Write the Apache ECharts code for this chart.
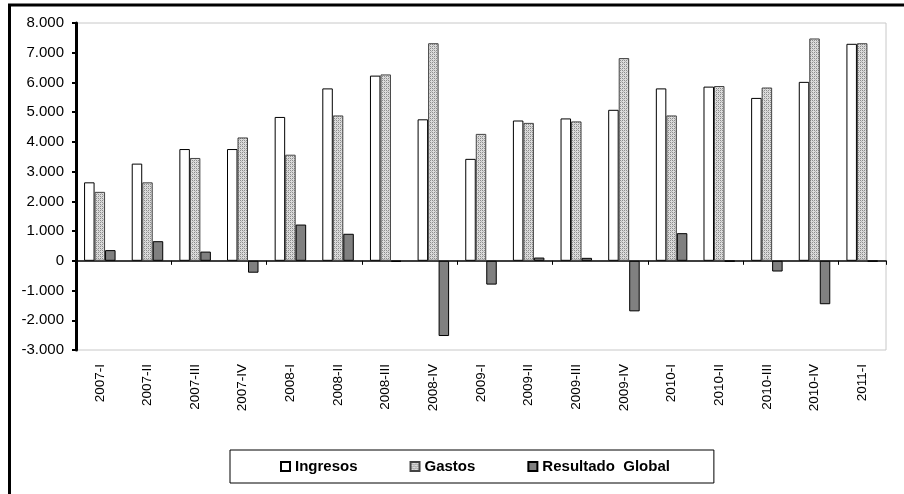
<!DOCTYPE html>
<html>
<head>
<meta charset="utf-8">
<script src="https://cdn.jsdelivr.net/npm/echarts@6/dist/echarts.min.js"></script>
<style>html,body{margin:0;padding:0;background:#fff}#c{width:904px;height:494px}</style>
</head>
<body>
<div id="c"></div>
<script>
const categories = ['2007-I','2007-II','2007-III','2007-IV','2008-I','2008-II','2008-III','2008-IV','2009-I','2009-II','2009-III','2009-IV','2010-I','2010-II','2010-III','2010-IV','2011-I'];
const ingresos = [2640,3270,3760,3760,4840,5800,6230,4760,3430,4720,4790,5080,5800,5860,5480,6020,7300];
const gastos   = [2320,2640,3460,4150,3570,4890,6270,7320,4270,4640,4690,6820,4890,5880,5830,7480,7320];
const resultado= [360,660,310,-400,1220,910,-30,-2530,-800,110,100,-1700,930,-20,-360,-1460,-20];
const yTicks = {min:-3000, max:8000, interval:1000};

function fmt(v){
  const s = String(Math.abs(v)).replace(/\B(?=(\d{3})+(?!\d))/g, '.');
  return (v < 0 ? '-' : '') + s;
}

// dotted pattern for Gastos
const pc = document.createElement('canvas');
pc.width = 4; pc.height = 4;
const px = pc.getContext('2d');
px.fillStyle = '#dcdcdc'; px.fillRect(0,0,4,4);
px.fillStyle = '#8c8c8c';
px.fillRect(0,0,1,1); px.fillRect(2,2,1,1); px.fillRect(2,0,1,1); px.fillRect(0,2,1,1);
px.fillStyle = '#b8b8b8';
px.fillRect(1,1,1,1); px.fillRect(3,3,1,1);

const chart = echarts.init(document.getElementById('c'), null, {renderer:'canvas'});
chart.setOption({
  animation:false,
  backgroundColor:'#fff',
  textStyle:{fontFamily:'Liberation Sans, Arial, sans-serif'},
  grid:{left:76, right:18, top:23, bottom:144, show:true, borderColor:'#c8c8c8', borderWidth:1, backgroundColor:'transparent'},
  graphic:[{type:'rect', shape:{x:9.5, y:5, width:1000, height:1000}, style:{fill:'none', stroke:'#000', lineWidth:3}, silent:true, z:100}],
  legend:{
    left:230, top:450, padding:[9,44,9,50],
    borderColor:'#000', borderWidth:1,
    itemWidth:9, itemHeight:9, itemGap:52,
    icon:'rect',
    textStyle:{fontSize:15, fontWeight:'bold', color:'#000', fontFamily:'Liberation Sans, Arial, sans-serif'},
    data:['Ingresos','Gastos','Resultado  Global']
  },
  xAxis:[
    {type:'category', data:categories, position:'bottom',
     axisLine:{onZero:true, lineStyle:{color:'#000', width:1.5}},
     axisTick:{show:true, length:4, lineStyle:{color:'#000', width:1}},
     axisLabel:{show:false}, splitLine:{show:false}},
    {type:'category', data:categories, position:'bottom',
     axisLine:{show:false, onZero:false}, axisTick:{show:false},
     axisLabel:{rotate:90, margin:14, fontSize:13.5, color:'#000', fontFamily:'Liberation Sans, Arial, sans-serif'},
     splitLine:{show:false}}
  ],
  yAxis:{type:'value', min:yTicks.min, max:yTicks.max, interval:yTicks.interval,
    axisLine:{show:true, lineStyle:{color:'#000', width:3}},
    axisTick:{show:true, length:4, lineStyle:{color:'#000', width:2}},
    axisLabel:{formatter:fmt, fontSize:15, color:'#000', margin:12, fontFamily:'Liberation Sans, Arial, sans-serif'},
    splitLine:{show:false}},
  series:[
    {name:'Ingresos', type:'bar', data:ingresos, barWidth:10.5, barGap:'0%', xAxisIndex:0,
     itemStyle:{color:'#ffffff', borderColor:'#000', borderWidth:1}},
    {name:'Gastos', type:'bar', data:gastos, barWidth:10.5, barGap:'0%', xAxisIndex:0,
     itemStyle:{color:{image:pc, repeat:'repeat'}, borderColor:'#444', borderWidth:1}},
    {name:'Resultado  Global', type:'bar', data:resultado, barWidth:10.5, barGap:'0%', xAxisIndex:0,
     itemStyle:{color:'#808080', borderColor:'#000', borderWidth:1}}
  ]
});
</script>
</body>
</html>
